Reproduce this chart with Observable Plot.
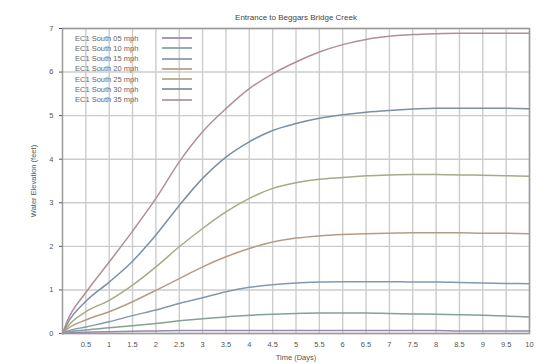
<!DOCTYPE html>
<html>
<head>
<meta charset="utf-8">
<script src="https://cdn.jsdelivr.net/npm/d3@7"></script>
<script src="https://cdn.jsdelivr.net/npm/@observablehq/plot@0.6"></script>
<style>
  html, body { margin: 0; padding: 0; background: #fff; }
  #wrap { position: relative; width: 546px; height: 364px; font-family: "Liberation Sans", Arial, sans-serif; }
  #legend { position: absolute; left: 75px; top: 33px; font-size: 7.5px; color: #666; }
  .row { display: flex; align-items: center; height: 10px; margin-bottom: 0.3px; }
  .row span { width: 87px; white-space: nowrap; }
  .row b { display: inline-block; width: 30px; height: 2px; opacity: 0.85; }
</style>
</head>
<body>
<div id="wrap"></div>
<script>
const title = "Entrance to Beggars Bridge Creek";
const xLabel = "Time (Days)";
const yLabel = "Water Elevation (feet)";
const time = [0, 0.1, 0.5, 1, 1.5, 2, 2.5, 3, 3.5, 4, 4.5, 5, 5.5, 6, 6.5, 7, 7.5, 8, 8.5, 9, 9.5, 10];
const seriesNames = ["EC1 South 05 mph", "EC1 South 10 mph", "EC1 South 15 mph", "EC1 South 20 mph", "EC1 South 25 mph", "EC1 South 30 mph", "EC1 South 35 mph"];
const colors = ["#9a87ad", "#86a095", "#8299ad", "#b39c86", "#a6aa86", "#7b90a3", "#b08f9a"];
const s05 = [0, 0.02, 0.03, 0.04, 0.05, 0.06, 0.07, 0.07, 0.07, 0.07, 0.07, 0.07, 0.07, 0.07, 0.07, 0.07, 0.07, 0.07, 0.06, 0.06, 0.06, 0.06];
const s10 = [0, 0.03, 0.08, 0.13, 0.18, 0.23, 0.29, 0.34, 0.38, 0.42, 0.44, 0.46, 0.47, 0.47, 0.47, 0.46, 0.45, 0.44, 0.43, 0.42, 0.40, 0.38];
const s15 = [0, 0.05, 0.15, 0.27, 0.41, 0.54, 0.69, 0.82, 0.96, 1.06, 1.12, 1.16, 1.18, 1.19, 1.19, 1.19, 1.18, 1.18, 1.17, 1.16, 1.15, 1.14];
const s20 = [0, 0.1, 0.31, 0.5, 0.73, 0.99, 1.26, 1.53, 1.76, 1.95, 2.10, 2.19, 2.24, 2.27, 2.29, 2.30, 2.31, 2.31, 2.31, 2.30, 2.30, 2.29];
const s25 = [0, 0.15, 0.5, 0.76, 1.11, 1.53, 1.99, 2.41, 2.79, 3.10, 3.33, 3.46, 3.54, 3.58, 3.62, 3.64, 3.65, 3.65, 3.64, 3.63, 3.62, 3.61];
const s30 = [0, 0.22, 0.74, 1.18, 1.66, 2.26, 2.94, 3.56, 4.05, 4.40, 4.66, 4.82, 4.94, 5.02, 5.08, 5.12, 5.15, 5.17, 5.17, 5.17, 5.17, 5.16];
const s35 = [0, 0.28, 0.94, 1.64, 2.35, 3.10, 3.94, 4.63, 5.16, 5.62, 5.96, 6.23, 6.46, 6.63, 6.75, 6.82, 6.86, 6.88, 6.89, 6.89, 6.89, 6.89];
const xTicks = [0.5, 1, 1.5, 2, 2.5, 3, 3.5, 4, 4.5, 5, 5.5, 6, 6.5, 7, 7.5, 8, 8.5, 9, 9.5, 10];
const yTicks = [0, 1, 2, 3, 4, 5, 6, 7];

const allSeries = [s05, s10, s15, s20, s25, s30, s35];
const rows = [];
allSeries.forEach((vals, i) => vals.forEach((v, j) => rows.push({t: time[j], v, name: seriesNames[i]})));

const chart = Plot.plot({
  width: 546,
  height: 364,
  marginLeft: 62,
  marginRight: 17,
  marginTop: 28,
  marginBottom: 31,
  style: {fontFamily: "Liberation Sans, Arial, sans-serif", fontSize: "7.5px", color: "#555", background: "#fff"},
  x: {domain: [0, 10]},
  y: {domain: [0, 7]},
  color: {domain: seriesNames, range: colors},
  marks: [
    Plot.gridX(xTicks, {stroke: "#cccccc", strokeOpacity: 1, strokeWidth: 1.4}),
    Plot.gridY(yTicks, {stroke: "#cccccc", strokeOpacity: 1, strokeWidth: 1.4}),
    Plot.frame({stroke: "#9a9a9a", strokeWidth: 1.5}),
    Plot.axisX(xTicks, {tickSize: 0, tickPadding: 8, tickFormat: d => String(d), label: xLabel, labelAnchor: "center", labelOffset: 26, labelArrow: "none", fill: "#555"}),
    Plot.axisY(yTicks, {tickSize: 3, tickPadding: 6, label: yLabel, labelAnchor: "center", labelOffset: 32, labelArrow: "none", fill: "#555"}),
    Plot.line(rows, {x: "t", y: "v", stroke: "name", z: "name", strokeWidth: 1.5, curve: "monotone-x"}),
    Plot.text([title], {frameAnchor: "top", dy: -14, fontSize: 8, fill: "#444"})
  ]
});
const wrap = document.getElementById("wrap");
wrap.appendChild(chart);
const legend = document.createElement("div");
legend.id = "legend";
seriesNames.forEach((n, i) => {
  const r = document.createElement("div");
  r.className = "row";
  const s = document.createElement("span");
  s.textContent = n;
  const b = document.createElement("b");
  b.style.background = colors[i];
  r.appendChild(s);
  r.appendChild(b);
  legend.appendChild(r);
});
wrap.appendChild(legend);
</script>
</body>
</html>
